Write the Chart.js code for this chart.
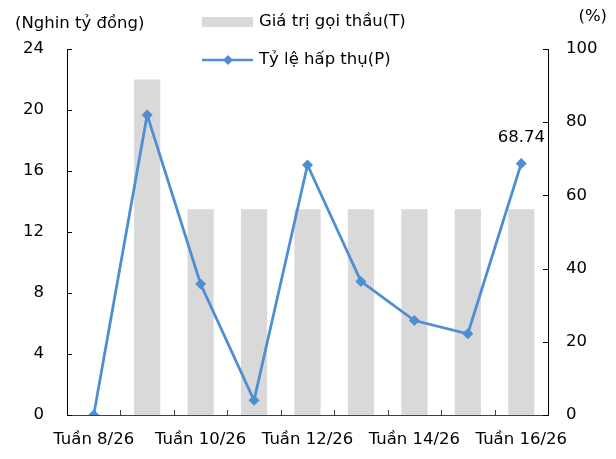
<!DOCTYPE html>
<html>
<head>
<meta charset="utf-8">
<script src="https://cdn.jsdelivr.net/npm/chart.js@4/dist/chart.umd.min.js"></script>
<style>
  html, body { margin: 0; padding: 0; background: #fff; }
  canvas { display: block; }
</style>
</head>
<body>
<canvas id="c" width="616" height="459"></canvas>
<script>
const weeks = ['Tuần 8/26', 'Tuần 9/26', 'Tuần 10/26', 'Tuần 11/26', 'Tuần 12/26', 'Tuần 13/26', 'Tuần 14/26', 'Tuần 15/26', 'Tuần 16/26'];
const offerValue = [0, 22, 13.5, 13.5, 13.5, 13.5, 13.5, 13.5, 13.5];
const absorptionRate = [0, 82, 35.8, 4, 68.3, 36.5, 25.8, 22.2, 68.74];
const leftTicks = [0, 4, 8, 12, 16, 20, 24];
const rightTicks = [0, 20, 40, 60, 80, 100];
const barLabel = 'Giá trị gọi thầu(T)';
const lineLabel = 'Tỷ lệ hấp thụ(P)';
const leftTitle = '(Nghin tỷ đồng)';
const rightTitle = '(%)';

const FONT = 'DejaVu Sans';
const FS = 16.5;
const BAR_COLOR = '#D9D9D9';
const LINE_COLOR = '#4E8FD4';

Chart.defaults.font.family = FONT;
Chart.defaults.font.size = FS;
Chart.defaults.color = '#000';

const overlay = {
  id: 'overlay',
  afterDraw(chart) {
    const ctx = chart.ctx;
    const xs = chart.scales.x, yl = chart.scales.y, yr = chart.scales.y1;
    ctx.save();
    ctx.lineWidth = 1;
    // left ticks (inward)
    ctx.strokeStyle = '#000';
    leftTicks.forEach(v => {
      const py = Math.round(yl.getPixelForValue(v)) + 0.5;
      ctx.beginPath(); ctx.moveTo(yl.right, py); ctx.lineTo(yl.right + 5, py); ctx.stroke();
    });
    rightTicks.forEach(v => {
      const py = Math.round(yr.getPixelForValue(v)) + 0.5;
      ctx.beginPath(); ctx.moveTo(yr.left, py); ctx.lineTo(yr.left - 5, py); ctx.stroke();
    });
    // x ticks between categories (upward)
    ctx.strokeStyle = '#404040';
    for (let i = 1; i < weeks.length; i++) {
      const px = Math.round((xs.getPixelForValue(i - 1) + xs.getPixelForValue(i)) / 2) + 0.5;
      ctx.beginPath(); ctx.moveTo(px, xs.top); ctx.lineTo(px, xs.top - 5); ctx.stroke();
    }
    // titles
    ctx.fillStyle = '#000';
    ctx.font = FS + 'px "' + FONT + '"';
    ctx.textBaseline = 'middle';
    ctx.textAlign = 'left';
    ctx.fillText(leftTitle, 15, 24);
    ctx.textAlign = 'right';
    ctx.fillText(rightTitle, 607, 17);
    // legend
    ctx.textAlign = 'left';
    ctx.fillStyle = BAR_COLOR;
    ctx.fillRect(202, 17, 51, 10);
    ctx.fillStyle = '#000';
    ctx.fillText(barLabel, 259, 22);
    ctx.strokeStyle = LINE_COLOR;
    ctx.lineWidth = 2.5;
    ctx.beginPath(); ctx.moveTo(202, 60); ctx.lineTo(253, 60); ctx.stroke();
    ctx.fillStyle = LINE_COLOR;
    ctx.beginPath(); ctx.moveTo(228, 55); ctx.lineTo(233, 60); ctx.lineTo(228, 65); ctx.lineTo(223, 60); ctx.closePath(); ctx.fill();
    ctx.fillStyle = '#000';
    ctx.fillText(lineLabel, 259, 60);
    // data label on last point
    const meta = chart.getDatasetMeta(1);
    const last = meta.data[meta.data.length - 1];
    ctx.textAlign = 'center';
    ctx.fillText(absorptionRate[absorptionRate.length - 1].toFixed(2), last.x, last.y - 26);
    ctx.restore();
  }
};

new Chart(document.getElementById('c'), {
  data: {
    labels: weeks,
    datasets: [
      {
        type: 'bar',
        label: barLabel,
        data: offerValue,
        backgroundColor: BAR_COLOR,
        borderWidth: 0,
        yAxisID: 'y',
        categoryPercentage: 1,
        barPercentage: 0.49,
        order: 2
      },
      {
        type: 'line',
        label: lineLabel,
        data: absorptionRate,
        borderColor: LINE_COLOR,
        backgroundColor: LINE_COLOR,
        borderWidth: 2.8,
        pointStyle: 'rectRot',
        pointRadius: 5.5,
        pointBorderWidth: 0,
        tension: 0,
        yAxisID: 'y1',
        order: 1
      }
    ]
  },
  options: {
    responsive: false,
    animation: false,
    devicePixelRatio: 1,
    layout: { padding: { top: 49, left: 0, right: 0, bottom: 0 } },
    plugins: { legend: { display: false }, tooltip: { enabled: false } },
    scales: {
      x: {
        offset: true,
        grid: { display: false, drawTicks: false },
        border: { display: true, color: '#404040', width: 1 },
        ticks: {
          autoSkip: false, maxRotation: 0, padding: 15,
          callback: function (v, i) { return i % 2 === 0 ? weeks[i] : ''; }
        },
        afterFit(s) { s.height = 459 - 415; }
      },
      y: {
        position: 'left',
        min: 0, max: 24,
        grid: { display: false, drawTicks: false },
        border: { display: true, color: '#000', width: 1 },
        ticks: { stepSize: 4, padding: 23 },
        afterFit(s) { s.width = 67; }
      },
      y1: {
        position: 'right',
        min: 0, max: 100,
        grid: { display: false, drawTicks: false },
        border: { display: true, color: '#000', width: 1 },
        ticks: { stepSize: 20, padding: 18 },
        afterFit(s) { s.width = 616 - 548; }
      }
    }
  },
  plugins: [overlay]
});
</script>
</body>
</html>
